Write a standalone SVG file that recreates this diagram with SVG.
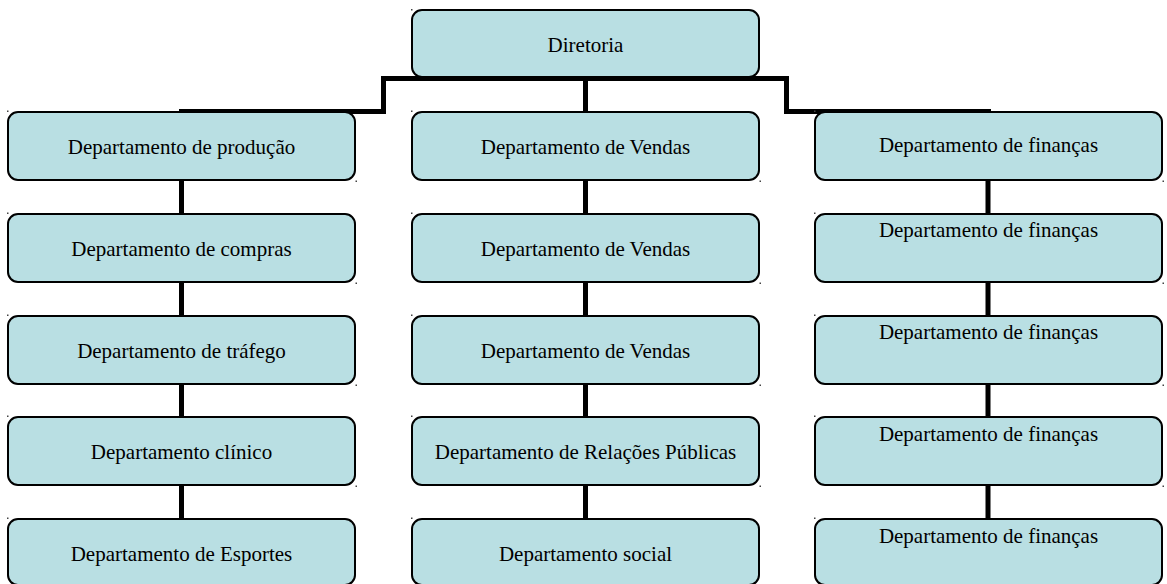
<svg xmlns="http://www.w3.org/2000/svg" width="1167" height="584" viewBox="0 0 1167 584">
<style>
.box{fill:#B9DFE3;stroke:#000;stroke-width:2}
.t{font-family:"Liberation Serif","Times New Roman",serif;font-size:21px;fill:#000;text-anchor:middle}
.c{fill:none;stroke:#000;stroke-width:5;stroke-linecap:butt;stroke-linejoin:miter}
.m{fill:#444}
</style>
<rect width="1167" height="584" fill="#fff"/>
<g id="connectors">
<path class="c" d="M179,111.5 H383.5 V78.5 H786.5 V111.5 H991"/>
<path class="c" d="M585.5,77 V112"/>
<path class="c" d="M181.5,180 V214 M181.5,282 V316 M181.5,384 V417 M181.5,485 V519"/>
<path class="c" d="M585.5,180 V214 M585.5,282 V316 M585.5,384 V417 M585.5,485 V519"/>
<path class="c" d="M988,180 V214 M988,282 V316 M988,384 V417 M988,485 V519"/>
</g>
<g id="diretoria"><rect class="box" x="412" y="10" width="347" height="67" rx="10"/><text class="t" x="585.5" y="52">Diretoria</text></g>
<g id="producao"><rect class="box" x="8" y="112" width="347" height="68" rx="10"/><text class="t" x="181.5" y="154">Departamento de produção</text></g>
<g id="compras"><rect class="box" x="8" y="214" width="347" height="68" rx="10"/><text class="t" x="181.5" y="256">Departamento de compras</text></g>
<g id="trafego"><rect class="box" x="8" y="316" width="347" height="68" rx="10"/><text class="t" x="181.5" y="358">Departamento de tráfego</text></g>
<g id="clinico"><rect class="box" x="8" y="417" width="347" height="68" rx="10"/><text class="t" x="181.5" y="459">Departamento clínico</text></g>
<g id="esportes"><rect class="box" x="8" y="519" width="347" height="66" rx="10"/><text class="t" x="181.5" y="561">Departamento de Esportes</text></g>
<g id="vendas1"><rect class="box" x="412" y="112" width="347" height="68" rx="10"/><text class="t" x="585.5" y="154">Departamento de Vendas</text></g>
<g id="vendas2"><rect class="box" x="412" y="214" width="347" height="68" rx="10"/><text class="t" x="585.5" y="256">Departamento de Vendas</text></g>
<g id="vendas3"><rect class="box" x="412" y="316" width="347" height="68" rx="10"/><text class="t" x="585.5" y="358">Departamento de Vendas</text></g>
<g id="relacoes"><rect class="box" x="412" y="417" width="347" height="68" rx="10"/><text class="t" x="585.5" y="459">Departamento de Relações Públicas</text></g>
<g id="social"><rect class="box" x="412" y="519" width="347" height="66" rx="10"/><text class="t" x="585.5" y="561">Departamento social</text></g>
<g id="financas1"><rect class="box" x="815" y="112" width="347" height="68" rx="10"/><text class="t" x="988.5" y="152">Departamento de finanças</text></g>
<g id="financas2"><rect class="box" x="815" y="214" width="347" height="68" rx="10"/><text class="t" x="988.5" y="237">Departamento de finanças</text></g>
<g id="financas3"><rect class="box" x="815" y="316" width="347" height="68" rx="10"/><text class="t" x="988.5" y="339">Departamento de finanças</text></g>
<g id="financas4"><rect class="box" x="815" y="417" width="347" height="68" rx="10"/><text class="t" x="988.5" y="441">Departamento de finanças</text></g>
<g id="financas5"><rect class="box" x="815" y="519" width="347" height="66" rx="10"/><text class="t" x="988.5" y="543">Departamento de finanças</text></g>
<g id="marks">
<rect class="m" x="411" y="9" width="1.5" height="1.5"/>
<rect class="m" x="7" y="110.5" width="1.5" height="1.5"/><rect class="m" x="355.5" y="180.5" width="1.5" height="1.5"/>
<rect class="m" x="7" y="212.5" width="1.5" height="1.5"/><rect class="m" x="355.5" y="282.5" width="1.5" height="1.5"/>
<rect class="m" x="7" y="314.5" width="1.5" height="1.5"/><rect class="m" x="355.5" y="384.5" width="1.5" height="1.5"/>
<rect class="m" x="7" y="415.5" width="1.5" height="1.5"/><rect class="m" x="355.5" y="485.5" width="1.5" height="1.5"/>
<rect class="m" x="7" y="517.5" width="1.5" height="1.5"/>
<rect class="m" x="411" y="110.5" width="1.5" height="1.5"/><rect class="m" x="759.5" y="180.5" width="1.5" height="1.5"/>
<rect class="m" x="411" y="212.5" width="1.5" height="1.5"/><rect class="m" x="759.5" y="282.5" width="1.5" height="1.5"/>
<rect class="m" x="411" y="314.5" width="1.5" height="1.5"/><rect class="m" x="759.5" y="384.5" width="1.5" height="1.5"/>
<rect class="m" x="411" y="415.5" width="1.5" height="1.5"/><rect class="m" x="759.5" y="485.5" width="1.5" height="1.5"/>
<rect class="m" x="411" y="517.5" width="1.5" height="1.5"/>
<rect class="m" x="814" y="110.5" width="1.5" height="1.5"/><rect class="m" x="1162.5" y="180.5" width="1.5" height="1.5"/>
<rect class="m" x="814" y="212.5" width="1.5" height="1.5"/><rect class="m" x="1162.5" y="282.5" width="1.5" height="1.5"/>
<rect class="m" x="814" y="314.5" width="1.5" height="1.5"/><rect class="m" x="1162.5" y="384.5" width="1.5" height="1.5"/>
<rect class="m" x="814" y="415.5" width="1.5" height="1.5"/><rect class="m" x="1162.5" y="485.5" width="1.5" height="1.5"/>
<rect class="m" x="814" y="517.5" width="1.5" height="1.5"/>
</g>
</svg>
